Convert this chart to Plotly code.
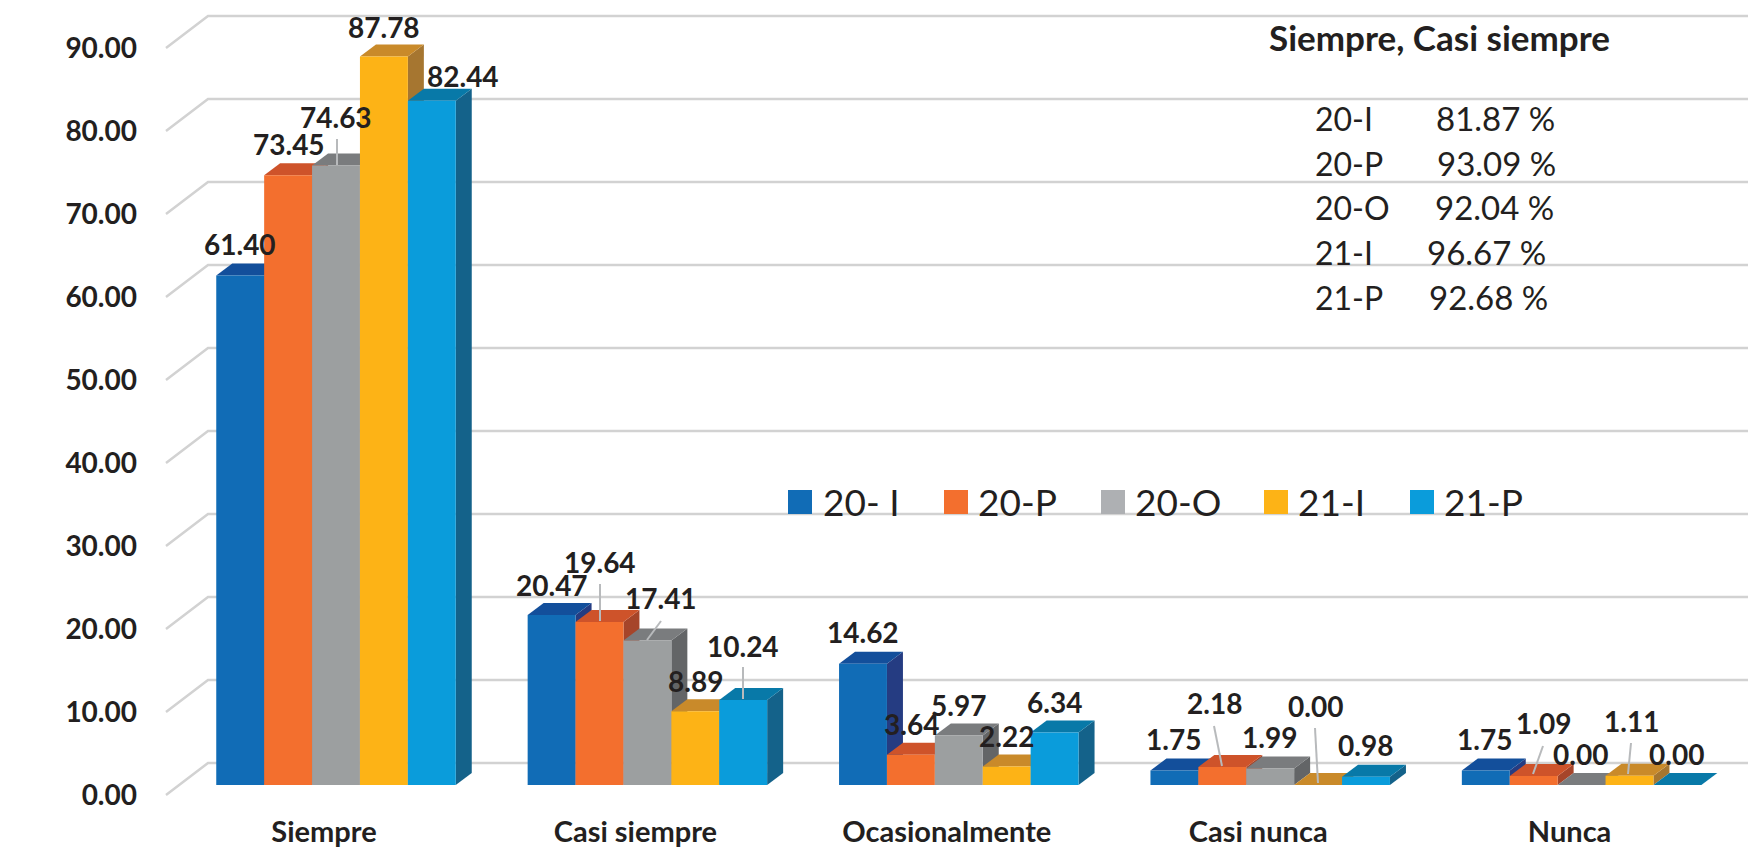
import plotly.graph_objects as go

# ---- data ----
categories = ["Siempre", "Casi siempre", "Ocasionalmente", "Casi nunca", "Nunca"]
s_20I = [61.40, 20.47, 14.62, 1.75, 1.75]
s_20P = [73.45, 19.64, 3.64, 2.18, 1.09]
s_20O = [74.63, 17.41, 5.97, 1.99, 0.00]
s_21I = [87.78, 8.89, 2.22, 0.00, 1.11]
s_21P = [82.44, 10.24, 6.34, 0.98, 0.00]
series_names = ["20-I", "20-P", "20-O", "21-I", "21-P"]
legend_names = ["20- I", "20-P", "20-O", "21-I", "21-P"]
y_ticks = [0, 10, 20, 30, 40, 50, 60, 70, 80, 90]
summary_names = ["20-I", "20-P", "20-O", "21-I", "21-P"]
summary_values = ["81.87 %", "93.09 %", "92.04 %", "96.67 %", "92.68 %"]

# ---- style ----
series = [s_20I, s_20P, s_20O, s_21I, s_21P]
front = ["#116CB6", "#F36F2E", "#9C9FA0", "#FDB316", "#0A9CDB"]
top = ["#134F9B", "#CE532A", "#7A7C7E", "#C98A2A", "#0879A8"]
side = ["#253C82", "#A6452A", "#636567", "#A67630", "#14628A"]
legend_col = ["#116CB6", "#F36F2E", "#AEB0B3", "#FDB316", "#0A9CDB"]
INK = "#231F20"
GRID = "#D2D2D2"
FONT = "Lato"

W, H = 1748, 848
L, B_PX = 138, 812            # plot area left edge, bottom edge (page px)
X0_PX, X_UNIT = 324.0, 311.4  # page px of category 0 and px per category
Y0_PX, Y_UNIT = 795.0, 8.30   # page px of value 0 and px per unit


def X(px):
    return (px - X0_PX) / X_UNIT


def Y(py):
    return (Y0_PX - py) / Y_UNIT


def dX(px):
    return px / X_UNIT


def dY(px):
    return px / Y_UNIT


BAR_W = dX(47.9)
OFF_X, OFF_Y = dX(12), dY(10)     # bar front plane vs axis plane
DEP_X, DEP_Y = dX(16), dY(12)     # bar depth
WALL_X, WALL_Y = dX(42), dY(32)   # wall depth

shapes = []
annotations = []


def poly(pts, color):
    path = "M " + " L ".join(f"{x},{y}" for x, y in pts) + " Z"
    return dict(type="path", path=path, xref="x", yref="y", fillcolor=color,
                line=dict(width=0), layer="below")


# gridlines on the floor-wall projection
wall_x = X(166)
right = X(W)
for v in y_ticks:
    shapes.append(dict(
        type="path", xref="x", yref="y", layer="below",
        path=f"M {wall_x},{v} L {wall_x + WALL_X},{v + WALL_Y} L {right},{v + WALL_Y}",
        line=dict(color=GRID, width=2.5), fillcolor="rgba(0,0,0,0)"))

fig = go.Figure()
n = len(series)
for j, vals in enumerate(series):
    xs = [i + OFF_X + (j - (n - 1) / 2) * BAR_W for i in range(len(vals))]
    for xc, v in zip(xs, vals):
        xl, xr = xc - BAR_W / 2, xc + BAR_W / 2
        yt = OFF_Y + v
        shapes.append(poly([(xr, OFF_Y), (xr + DEP_X, OFF_Y + DEP_Y),
                            (xr + DEP_X, yt + DEP_Y), (xr, yt)], side[j]))
        shapes.append(poly([(xl, yt), (xl + DEP_X, yt + DEP_Y),
                            (xr + DEP_X, yt + DEP_Y), (xr, yt)], top[j]))
    fig.add_trace(go.Bar(x=xs, y=vals, base=OFF_Y, width=BAR_W, name=series_names[j],
                         marker=dict(color=front[j], line=dict(width=0)),
                         showlegend=False))

# data labels: centre of each label on the page, per category/series
label_px = {
    (0, 0): (240, 244), (0, 1): (289, 144), (0, 2): (336, 117), (0, 3): (384, 27), (0, 4): (463, 76),
    (1, 0): (552, 585), (1, 1): (600, 562), (1, 2): (661, 598), (1, 3): (695, 681), (1, 4): (743, 646),
    (2, 0): (863, 632), (2, 1): (911, 724), (2, 2): (958, 705), (2, 3): (1006, 736), (2, 4): (1054, 702),
    (3, 0): (1173, 739), (3, 1): (1214, 703), (3, 2): (1269, 737), (3, 3): (1315, 706), (3, 4): (1365, 745),
    (4, 0): (1484, 739), (4, 1): (1543, 723), (4, 2): (1580, 754), (4, 3): (1631, 721), (4, 4): (1676, 754),
}
for (i, j), (px, py) in label_px.items():
    annotations.append(dict(x=X(px), y=Y(py), xref="x", yref="y", text=f"{series[j][i]:.2f}",
                            showarrow=False, xanchor="center", yanchor="middle",
                            font=dict(family=FONT, size=28, color=INK, weight=700)))

# leader lines
leaders = [((337, 139), (337, 165)), ((600, 584), (600, 621)), ((661, 621), (647, 640)),
           ((743, 667), (743, 699)), ((1214, 726), (1222, 766)), ((1315, 728), (1318, 783)),
           ((1543, 746), (1533, 774)), ((1631, 743), (1628, 774))]
for (x1, y1), (x2, y2) in leaders:
    shapes.append(dict(type="line", xref="x", yref="y", x0=X(x1), y0=Y(y1), x1=X(x2), y1=Y(y2),
                       line=dict(color="#B8BABC", width=2), layer="above"))

# legend
swatch_x = [788, 944, 1101, 1264, 1410]
text_x = [821, 976, 1133, 1296, 1442]
for name, col, sx, tx in zip(legend_names, legend_col, swatch_x, text_x):
    shapes.append(dict(type="rect", xref="x", yref="y", x0=X(sx), x1=X(sx + 24), y0=Y(490), y1=Y(514),
                       fillcolor=col, line=dict(width=0), layer="above"))
    annotations.append(dict(x=X(tx), y=Y(501), xref="x", yref="y", text=name, showarrow=False,
                            xanchor="left", yanchor="middle",
                            font=dict(family=FONT, size=37, color=INK)))

# summary block
annotations.append(dict(x=X(1267), y=Y(37), xref="x", yref="y", text="Siempre, Casi siempre",
                        showarrow=False, xanchor="left", yanchor="middle",
                        font=dict(family=FONT, size=35, color=INK, weight=700)))
row_y = [118, 163, 207, 252, 297]
val_x = [1434, 1435, 1433, 1425, 1427]
for nm, val, ry, vx in zip(summary_names, summary_values, row_y, val_x):
    annotations.append(dict(x=X(1313), y=Y(ry), xref="x", yref="y", text=nm, showarrow=False,
                            xanchor="left", yanchor="middle", font=dict(family=FONT, size=32, color=INK)))
    annotations.append(dict(x=X(vx), y=Y(ry), xref="x", yref="y", text=val, showarrow=False,
                            xanchor="left", yanchor="middle", font=dict(family=FONT, size=33, color=INK)))

# axis unit
annotations.append(dict(x=X(27), y=Y(362), xref="x", yref="y", text="%", showarrow=False,
                        font=dict(family=FONT, size=27, color=INK), xanchor="center", yanchor="middle"))

fig.update_layout(
    width=W, height=H, autosize=False,
    margin=dict(l=L, r=0, t=0, b=H - B_PX, pad=0),
    paper_bgcolor="white", plot_bgcolor="white",
    barmode="overlay", showlegend=False,
    shapes=shapes, annotations=annotations,
    xaxis=dict(range=[X(L), X(W)], tickvals=list(range(len(categories))), ticktext=categories,
               showgrid=False, zeroline=False, showline=False, ticks="",
               tickfont=dict(family=FONT, size=29, color=INK, weight=700), automargin=False),
    yaxis=dict(range=[Y(B_PX), Y(0)], tickvals=y_ticks, ticktext=[f"{v:.2f}" for v in y_ticks],
               showgrid=False, zeroline=False, showline=False, ticks="",
               tickfont=dict(family=FONT, size=28, color=INK, weight=700), automargin=False),
)
fig.write_html("out.html", config=dict(displayModeBar=False),
               post_script="document.body.style.margin='0';document.body.style.overflow='hidden';")
